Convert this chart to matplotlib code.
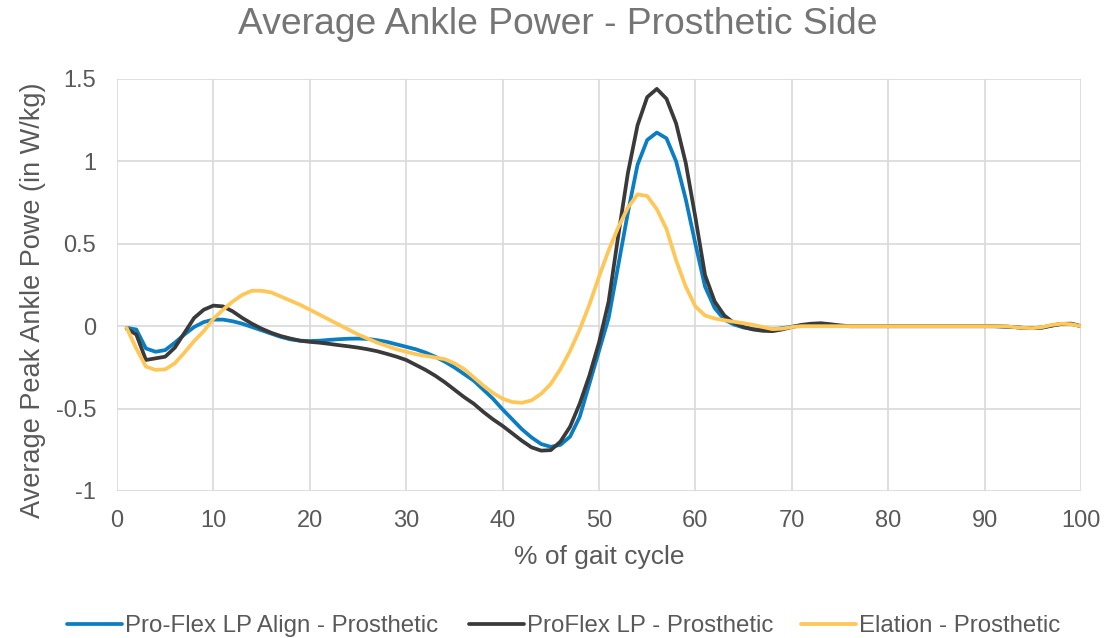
import matplotlib
matplotlib.use("Agg")
import matplotlib.pyplot as plt
import numpy as np

plt.rcParams['font.family'] = ['Liberation Sans', 'DejaVu Sans']

gait = list(range(1, 101))

align = [-0.01, -0.02, -0.135, -0.155, -0.145, -0.10, -0.05, -0.005, 0.025, 0.04,
         0.04, 0.03, 0.015, -0.005, -0.025, -0.045, -0.065, -0.08, -0.088, -0.09,
         -0.088, -0.083, -0.079, -0.076, -0.075, -0.077, -0.085, -0.095, -0.11, -0.125,
         -0.14, -0.16, -0.185, -0.215, -0.25, -0.29, -0.33, -0.385, -0.44, -0.505,
         -0.565, -0.625, -0.675, -0.715, -0.732, -0.72, -0.67, -0.55, -0.35, -0.15,
         0.05, 0.37, 0.69, 0.98, 1.13, 1.175, 1.14, 1.00, 0.77, 0.50,
         0.24, 0.11, 0.04, 0.01, -0.008, -0.018, -0.022, -0.02, -0.012, -0.003,
         0.005, 0.01, 0.01, 0.006, 0.002, 0.0, 0.0, 0.0, 0.0, 0.0,
         0.0, 0.0, 0.0, 0.0, 0.0, 0.0, 0.0, 0.0, 0.0, 0.0,
         0.0, -0.002, -0.005, -0.01, -0.012, -0.008, 0.004, 0.014, 0.015, 0.0]

proflex = [-0.015, -0.05, -0.205, -0.195, -0.185, -0.13, -0.04, 0.05, 0.10, 0.125,
           0.12, 0.09, 0.05, 0.015, -0.015, -0.04, -0.06, -0.075, -0.088, -0.095,
           -0.10, -0.107, -0.115, -0.122, -0.13, -0.14, -0.152, -0.168, -0.185, -0.205,
           -0.235, -0.265, -0.30, -0.34, -0.385, -0.43, -0.47, -0.52, -0.565, -0.605,
           -0.65, -0.695, -0.735, -0.755, -0.752, -0.70, -0.61, -0.47, -0.30, -0.10,
           0.15, 0.55, 0.93, 1.22, 1.39, 1.44, 1.38, 1.23, 0.99, 0.66,
           0.31, 0.15, 0.065, 0.02, -0.005, -0.02, -0.028, -0.03, -0.02, -0.005,
           0.008, 0.015, 0.018, 0.012, 0.005, 0.0, 0.0, 0.0, 0.0, 0.0,
           0.0, 0.0, 0.0, 0.0, 0.0, 0.0, 0.0, 0.0, 0.0, 0.0,
           0.0, -0.002, -0.005, -0.01, -0.012, -0.008, 0.004, 0.014, 0.015, 0.0]

elation = [-0.01, -0.135, -0.245, -0.265, -0.262, -0.225, -0.16, -0.09, -0.03, 0.045,
           0.10, 0.15, 0.19, 0.215, 0.215, 0.205, 0.18, 0.155, 0.13, 0.10,
           0.07, 0.04, 0.01, -0.02, -0.05, -0.075, -0.10, -0.12, -0.14, -0.155,
           -0.17, -0.18, -0.19, -0.20, -0.225, -0.26, -0.31, -0.36, -0.405, -0.44,
           -0.46, -0.465, -0.45, -0.41, -0.35, -0.26, -0.15, -0.02, 0.13, 0.30,
           0.46, 0.60, 0.72, 0.80, 0.79, 0.71, 0.59, 0.40, 0.24, 0.12,
           0.065, 0.047, 0.036, 0.027, 0.018, 0.008, -0.005, -0.018, -0.015, -0.005,
           0.0, 0.0, 0.0, 0.0, 0.0, 0.0, 0.0, 0.0, 0.0, 0.0,
           0.0, 0.0, 0.0, 0.0, 0.0, 0.0, 0.0, 0.0, 0.0, 0.0,
           0.0, 0.0, -0.005, -0.01, -0.012, -0.005, 0.008, 0.015, 0.012, 0.0]

series_names = ["Pro-Flex LP Align - Prosthetic", "ProFlex LP - Prosthetic", "Elation - Prosthetic"]
colors = ["#0B7DC3", "#3A3A3A", "#FFC658"]

fig = plt.figure(figsize=(11.19, 6.38), dpi=100)
ax = fig.add_axes([117/1119, 1-491/638, (1081-117)/1119, (491-79)/638])

lines = []
for y, name, c in zip([align, proflex, elation], series_names, colors):
    ln, = ax.plot(gait, y, color=c, lw=2.7, label=name, solid_capstyle='round', solid_joinstyle='round')
    lines.append(ln)

ax.set_xlim(0, 100)
ax.set_ylim(-1, 1.5)
ax.set_xticks(np.arange(0, 101, 10))
ax.set_yticks([-1, -0.5, 0, 0.5, 1, 1.5])
ax.set_yticklabels(["-1", "-0.5", "0", "0.5", "1", "1.5"])
ax.grid(True, color="#D9D9D9", lw=1.2)
ax.set_axisbelow(True)
for s in ax.spines.values():
    s.set_visible(False)
ax.tick_params(length=0, labelsize=17, labelcolor="#595959")
ax.tick_params(axis='y', pad=15)
ax.tick_params(axis='x', pad=14)

fig.text(0.498, 1-25/638, "Average Ankle Power - Prosthetic Side", fontsize=26.8,
         color="#757575", ha="center", va="center")
ax.set_xlabel("% of gait cycle", fontsize=19, color="#595959")
ax.xaxis.set_label_coords(0.5, 1-(557-79)/412)
ax.xaxis.label.set_va("center")
ax.set_ylabel("Average Peak Ankle Powe (in W/kg)", fontsize=19.5, color="#595959")
ax.yaxis.set_label_coords((33-117)/964, (491-300)/412)
ax.yaxis.label.set_va("center")

legend_x = [67, 469, 801]
for ln, lx in zip(lines, legend_x):
    lg = fig.legend(handles=[ln], loc="center left", bbox_to_anchor=(lx/1119, 1-626/638),
                    frameon=False, fontsize=17.3, handlelength=2.3, handletextpad=0.1,
                    borderaxespad=0, borderpad=0)
    for t in lg.get_texts():
        t.set_color("#595959")

fig.savefig("out.png", dpi=100)
